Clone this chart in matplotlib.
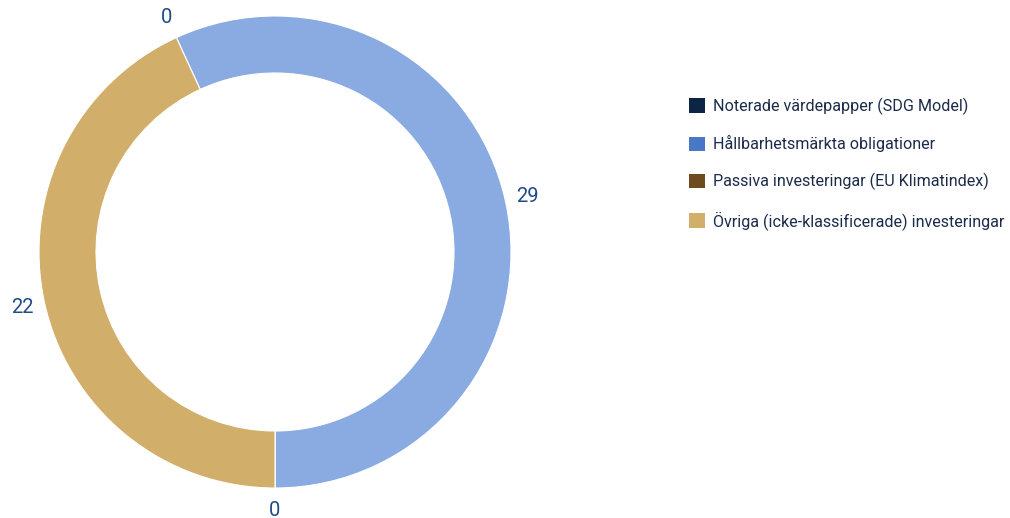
import numpy as np
import matplotlib
matplotlib.use("Agg")
import matplotlib.pyplot as plt
from matplotlib.patches import Patch

plt.rcParams["font.family"] = ["Roboto", "DejaVu Sans"]

# Data
categories = [
    "Noterade värdepapper (SDG Model)",
    "Hållbarhetsmärkta obligationer",
    "Passiva investeringar (EU Klimatindex)",
    "Övriga (icke-klassificerade) investeringar",
]
values = [0, 29, 0, 22]
slice_colors = ["#0D2545", "#8AABE1", "#6E4A1F", "#D1AE69"]
legend_colors = ["#0D2545", "#4A78C6", "#6E4A1F", "#D1AE69"]

W, H = 1010, 518
fig = plt.figure(figsize=(W / 100, H / 100), dpi=100)

# pie axes: centre at (275, 252) px, outer radius 236 px
R = 236
L = 1.15
half = L * R
ax = fig.add_axes([(275 - half) / W, (H - 252 - half) / H, 2 * half / W, 2 * half / H])

total = sum(values)
start = -90 + 360 * values[1] / total + 360 * values[0] / total  # first slice sits at top-left
wedges, _ = ax.pie(values, colors=slice_colors, startangle=start, counterclock=False,
                   radius=1.0, wedgeprops=dict(width=57 / R, edgecolor="white", linewidth=0.8))
ax.set_xlim(-L, L)
ax.set_ylim(-L, L)
ax.set_aspect("equal")
ax.axis("off")

# value labels
ang = start
for v in values:
    mid = ang - 360 * v / total / 2
    ang -= 360 * v / total
    rad = np.deg2rad(mid)
    ax.text(1.095 * np.cos(rad), 1.095 * np.sin(rad), str(v), ha="center", va="center",
            fontsize=14.5, color="#1F4A86", clip_on=False)

handles = [Patch(facecolor=c, edgecolor="none") for c in legend_colors]
leg = fig.legend(handles, categories, loc="upper left", bbox_to_anchor=(674 / W, 1 - 83 / H),
                 frameon=False, fontsize=11.6, handlelength=1.0, handleheight=1.0,
                 handletextpad=0.55, labelspacing=1.28)
for t in leg.get_texts():
    t.set_color("#1B2B4A")

fig.savefig("out.png", dpi=100)
